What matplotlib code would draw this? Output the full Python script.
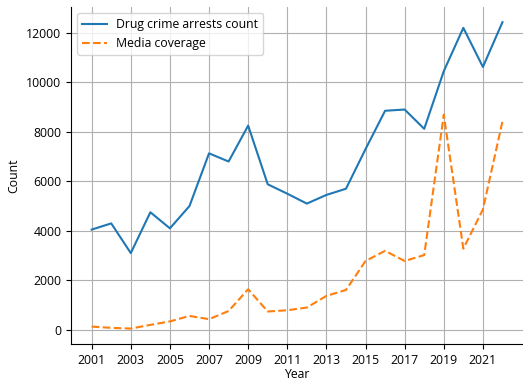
import matplotlib
matplotlib.use("Agg")
import matplotlib.pyplot as plt

plt.rcParams['font.family'] = ['Open Sans', 'DejaVu Sans']

years = list(range(2001, 2023))
arrests = [4050, 4300, 3100, 4750, 4100, 5000, 7130, 6800, 8250, 5880, 5500,
           5100, 5450, 5700, 7300, 8850, 8900, 8120, 10450, 12200, 10620, 12430]
media = [130, 80, 50, 200, 340, 560, 430, 760, 1640, 740, 790,
         900, 1370, 1610, 2780, 3190, 2780, 3020, 8690, 3280, 4860, 8420]
xticks = list(range(2001, 2023, 2))

fig = plt.figure(figsize=(5.23, 3.80), dpi=100)
ax = fig.add_axes([0.136, 0.095, 0.864, 0.887])
ax.plot(years, arrests, color='#1f77b4', linestyle='-', linewidth=1.5,
        label='Drug crime arrests count')
ax.plot(years, media, color='#ff7f0e', linestyle='--', linewidth=1.5,
        label='Media coverage')
ax.set_xticks(xticks)
ax.set_xlabel('Year', fontsize=8.8, labelpad=1)
ax.set_ylabel('Count', fontsize=8.8)
ax.tick_params(labelsize=8.8)
ax.grid(True, color='#b0b0b0', linewidth=0.8)
ax.spines['top'].set_visible(False)
ax.spines['right'].set_visible(False)
ax.legend(loc='upper left', fontsize=8.8)
fig.savefig('out.png', dpi=100)
